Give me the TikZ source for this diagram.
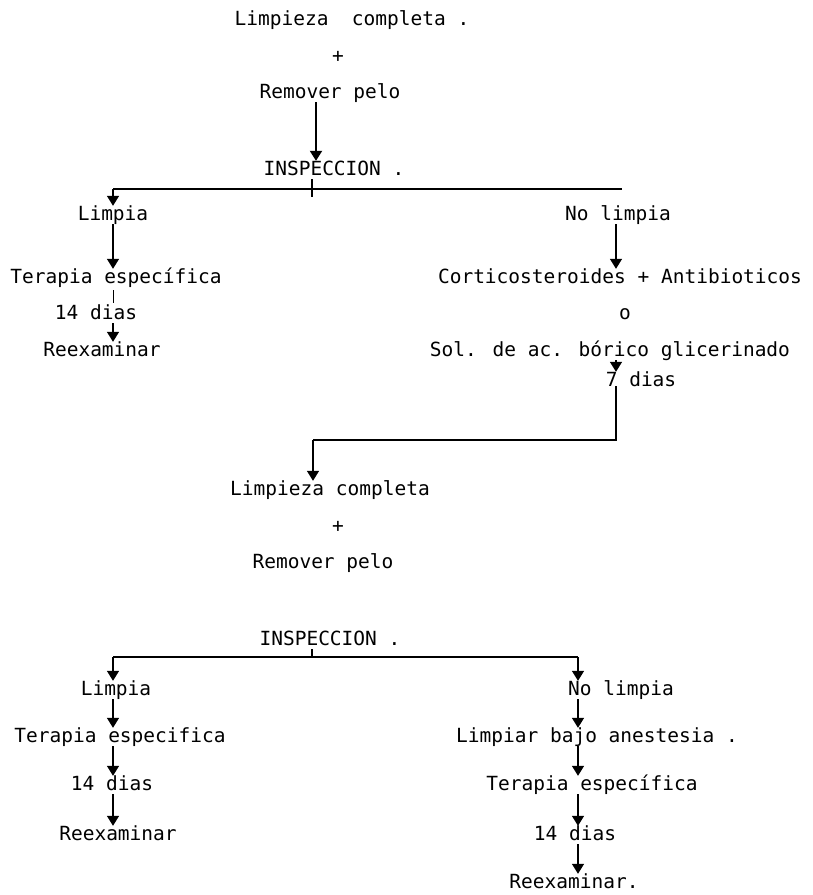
\documentclass[tikz,border=0pt]{standalone}
\usepackage{fontspec}
\setmainfont{DejaVu Sans Mono}
\usetikzlibrary{arrows.meta}
\begin{document}
\begin{tikzpicture}[x=1pt,y=-1pt,
  txt/.style={inner sep=0pt,text height=14pt,text depth=4pt,font=\fontsize{19.5}{22}\selectfont},
  ln/.style={line width=1.5pt},
  arr/.style={line width=1.5pt,-{Triangle[width=12pt,length=10pt]}}]
\useasboundingbox (0,0) rectangle (813,895);
% ---- top part ----
\node[txt] (lc1) at (352,20) {Limpieza\ \ completa .};
\node[txt] (plus1) at (338,57) {+};
\node[txt] (rp1) at (330,93) {Remover pelo};
\node[txt] (ins1) at (334,170) {INSPECCION .};
\coordinate (cA) at (316,0);
\coordinate (cT) at (312,0);
\coordinate (c1) at (113,0);
\coordinate (c2) at (616,0);
\coordinate (h1L) at (113,189);
\coordinate (h1R) at (622,189);
\draw[arr,line width=2pt] (rp1.south -| cA) -- (ins1.north -| cA);
\draw[ln] (h1L) -- (h1R);
\draw[ln] (ins1.south -| cT) -- ([yshift=-8pt]h1L -| cT);
% left branch
\node[txt] (lim1) at (113,215) {Limpia};
\node[txt] (ter1) at (116,278) {Terapia específica};
\node[txt] (d14a) at (96,314) {14 dias};
\node[txt] (ree1) at (102,351) {Reexaminar};
\draw[arr] (h1L) -- (lim1.north -| c1);
\draw[arr] (lim1.south -| c1) -- (ter1.north -| c1);
\draw[line width=1pt] ([yshift=-3pt]ter1.south -| c1) -- ([yshift=2pt]d14a.north -| c1);
\draw[arr] (d14a.south -| c1) -- (ree1.north -| c1);
% right branch
\node[txt] (nl1) at (618,215) {No limpia};
\node[txt] (cor) at (620,278) {Corticosteroides + Antibioticos};
\node[txt] (o) at (625,314) {o};
\node[txt] (sol) at (610,351) {Sol. de ac. bórico glicerinado};
\node[txt] (d7) at (641,381) {7 dias};
\coordinate (h2R) at (616,440);
\coordinate (h2L) at (313,440);
\draw[arr] (nl1.south -| c2) -- (cor.north -| c2);
\draw[arr] (sol.south -| c2) -- (d7.north -| c2);
% ---- middle ----
\node[txt] (lc2) at (330,490) {Limpieza completa};
\node[txt] (plus2) at (338,527) {+};
\node[txt] (rp2) at (323,563) {Remover pelo};
\draw[ln] ([yshift=4pt]d7.south -| c2) -- (h2R) -- (h2L);
\draw[arr] (h2L) -- (lc2.north -| h2L);
% ---- bottom part ----
\node[txt] (ins2) at (330,640) {INSPECCION .};
\coordinate (h3L) at (113,657);
\coordinate (h3R) at (578,657);
\coordinate (c3) at (578,0);
\draw[ln] (h3L) -- (h3R);
\draw[ln] (ins2.south -| cT) -- (h3L -| cT);
\node[txt] (lim2) at (116,690) {Limpia};
\node[txt] (ter2) at (120,737) {Terapia especifica};
\node[txt] (d14b) at (112,785) {14 dias};
\node[txt] (ree2) at (118,835) {Reexaminar};
\draw[arr] (h3L) -- (lim2.north -| c1);
\draw[arr] (lim2.south -| c1) -- (ter2.north -| c1);
\draw[arr] (ter2.south -| c1) -- (d14b.north -| c1);
\draw[arr] (d14b.south -| c1) -- (ree2.north -| c1);
\node[txt] (nl2) at (621,690) {No limpia};
\node[txt] (lba) at (597,737) {Limpiar bajo anestesia .};
\node[txt] (ter3) at (592,785) {Terapia específica};
\node[txt] (d14c) at (575,835) {14 dias};
\node[txt] (ree3) at (574,883) {Reexaminar.};
\draw[arr] (h3R) -- (nl2.north -| c3);
\draw[arr] (nl2.south -| c3) -- (lba.north -| c3);
\draw[arr] (lba.south -| c3) -- (ter3.north -| c3);
\draw[arr] (ter3.south -| c3) -- (d14c.north -| c3);
\draw[arr] (d14c.south -| c3) -- (ree3.north -| c3);
\end{tikzpicture}
\end{document}
